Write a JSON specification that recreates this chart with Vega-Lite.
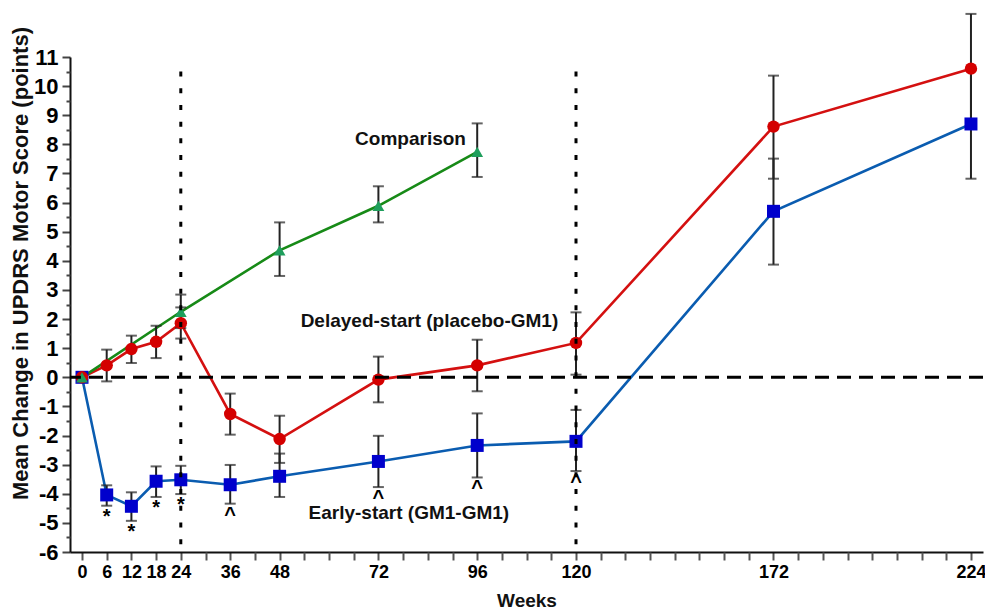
{
  "$schema": "https://vega.github.io/schema/vega-lite/v6.json",
  "autosize": {"type": "none"},
  "padding": {"left": 70, "top": 57, "right": 2, "bottom": 57},
  "width": 913,
  "height": 495,
  "background": "white",
  "config": {"view": {"stroke": null}, "font": "Liberation Sans", "axis": {"labelOverlap": false, "labelFlush": false, "labelBound": false, "grid": false}},
  "datasets": {
    "series": [
      {"g": "early", "week": 0, "mean": 0, "lo": null, "hi": null, "sym": ""},
      {"g": "early", "week": 6, "mean": -4.04, "lo": -4.41, "hi": -3.71, "sym": "*"},
      {"g": "early", "week": 12, "mean": -4.43, "lo": -4.93, "hi": -3.95, "sym": "*"},
      {"g": "early", "week": 18, "mean": -3.57, "lo": -4.11, "hi": -3.06, "sym": "*"},
      {"g": "early", "week": 24, "mean": -3.52, "lo": -4.01, "hi": -3.04, "sym": "*"},
      {"g": "early", "week": 36, "mean": -3.69, "lo": -4.34, "hi": -3.01, "sym": "^"},
      {"g": "early", "week": 48, "mean": -3.4, "lo": -4.11, "hi": -2.62, "sym": ""},
      {"g": "early", "week": 72, "mean": -2.89, "lo": -3.77, "hi": -2.01, "sym": "^"},
      {"g": "early", "week": 96, "mean": -2.34, "lo": -3.44, "hi": -1.24, "sym": "^"},
      {"g": "early", "week": 120, "mean": -2.2, "lo": -3.22, "hi": -1.12, "sym": "^"},
      {"g": "early", "week": 172, "mean": 5.7, "lo": 3.87, "hi": 7.51, "sym": ""},
      {"g": "early", "week": 224, "mean": 8.7, "lo": 6.82, "hi": 10.58, "sym": ""},
      {"g": "delayed", "week": 0, "mean": 0, "lo": null, "hi": null, "sym": ""},
      {"g": "delayed", "week": 6, "mean": 0.41, "lo": -0.14, "hi": 0.95, "sym": ""},
      {"g": "delayed", "week": 12, "mean": 0.97, "lo": 0.49, "hi": 1.43, "sym": ""},
      {"g": "delayed", "week": 18, "mean": 1.22, "lo": 0.66, "hi": 1.77, "sym": ""},
      {"g": "delayed", "week": 24, "mean": 1.86, "lo": 1.33, "hi": 2.4, "sym": ""},
      {"g": "delayed", "week": 36, "mean": -1.26, "lo": -1.97, "hi": -0.56, "sym": ""},
      {"g": "delayed", "week": 48, "mean": -2.12, "lo": -2.94, "hi": -1.32, "sym": ""},
      {"g": "delayed", "week": 72, "mean": -0.08, "lo": -0.86, "hi": 0.71, "sym": ""},
      {"g": "delayed", "week": 96, "mean": 0.41, "lo": -0.48, "hi": 1.29, "sym": ""},
      {"g": "delayed", "week": 120, "mean": 1.18, "lo": 0.09, "hi": 2.23, "sym": ""},
      {"g": "delayed", "week": 172, "mean": 8.61, "lo": 6.82, "hi": 10.36, "sym": ""},
      {"g": "delayed", "week": 224, "mean": 10.6, "lo": 8.71, "hi": 12.48, "sym": ""},
      {"g": "comparison", "week": 0, "mean": 0, "lo": null, "hi": null, "sym": ""},
      {"g": "comparison", "week": 24, "mean": 2.25, "lo": 1.69, "hi": 2.84, "sym": ""},
      {"g": "comparison", "week": 48, "mean": 4.36, "lo": 3.48, "hi": 5.32, "sym": ""},
      {"g": "comparison", "week": 72, "mean": 5.89, "lo": 5.32, "hi": 6.56, "sym": ""},
      {"g": "comparison", "week": 96, "mean": 7.74, "lo": 6.88, "hi": 8.72, "sym": ""}
    ],
    "labels": [
      {"week": 79.8, "val": 7.99, "label": "Comparison"},
      {"week": 84.4, "val": 1.74, "label": "Delayed-start (placebo-GM1)"},
      {"week": 79.4, "val": -4.87, "label": "Early-start (GM1-GM1)"}
    ],
    "phases": [
      {"week": 24},
      {"week": 120}
    ]
  },
  "resolve": {"axis": {"y": "independent", "x": "independent"}},
  "layer": [
    {
      "data": {"name": "series"},
      "mark": {"type": "line", "strokeWidth": 2.6, "clip": false},
      "encoding": {
        "x": {
          "field": "week", "type": "quantitative",
          "scale": {"domain": [-2.915, 120, 227.17], "range": [0, 506, 913], "nice": false, "zero": false},
          "axis": {
            "orient": "bottom",
            "title": "Weeks",
            "values": [0, 6, 12, 18, 24, 36, 48, 72, 96, 120, 172, 224],
            "domainColor": "#111", "domainWidth": 2,
            "tickColor": "#555", "tickWidth": 2, "tickSize": 8,
            "labelFont": "Liberation Sans", "labelFontWeight": "bold", "labelFontSize": 18, "labelColor": "#000",
            "labelPadding": 3, "labelOverlap": false, "labelFlush": false, "labelBound": false,
            "titleFont": "Liberation Sans", "titleFontWeight": "bold", "titleFontSize": 19, "titleColor": "#111",
            "titleY": 54, "titleBaseline": "alphabetic"
          }
        },
        "y": {
          "field": "mean", "type": "quantitative",
          "scale": {"domain": [-6, 11], "nice": false, "zero": false},
          "axis": {
            "orient": "left",
            "title": "Mean Change in UPDRS Motor Score (points)",
            "values": [-6, -5, -4, -3, -2, -1, 0, 1, 2, 3, 4, 5, 6, 7, 8, 9, 10, 11],
            "labelExpr": "datum.value < 0 ? '-' + abs(datum.value) : '' + datum.value",
            "domainColor": "#111", "domainWidth": 2,
            "tickColor": "#444", "tickWidth": 2, "tickSize": 8,
            "labelFont": "Liberation Sans", "labelFontWeight": "bold", "labelFontSize": 22, "labelColor": "#000",
            "labelPadding": 4, "labelOverlap": false, "labelFlush": false, "labelBound": false,
            "titleFont": "Liberation Sans", "titleFontWeight": "bold", "titleFontSize": 22, "titleColor": "#111",
            "titleX": -43, "titleY": 206, "titleBaseline": "alphabetic", "titleAngle": -90, "titleAlign": "center"
          }
        },
        "stroke": {
          "field": "g", "type": "nominal", "legend": null,
          "scale": {"domain": ["early", "delayed", "comparison"], "range": ["#0a5cb0", "#d41010", "#178a17"]}
        },
        "detail": {"field": "g"}
      }
    },
    {
      "data": {"name": "series"},
      "transform": [{"filter": "datum.lo != null"}],
      "mark": {"type": "rule", "color": "#222", "strokeWidth": 2, "clip": false},
      "encoding": {
        "x": {"field": "week", "type": "quantitative", "scale": {"domain": [-2.915, 120, 227.17], "range": [0, 506, 913], "nice": false, "zero": false}, "axis": null},
        "y": {"field": "lo", "type": "quantitative", "scale": {"domain": [-6, 11], "nice": false, "zero": false}, "axis": null},
        "y2": {"field": "hi"}
      }
    },
    {
      "data": {"name": "series"},
      "transform": [{"filter": "datum.lo != null"}],
      "mark": {"type": "tick", "orient": "horizontal", "color": "#222", "thickness": 2, "size": 11, "clip": false},
      "encoding": {
        "x": {"field": "week", "type": "quantitative", "scale": {"domain": [-2.915, 120, 227.17], "range": [0, 506, 913], "nice": false, "zero": false}, "axis": null},
        "y": {"field": "lo", "type": "quantitative", "scale": {"domain": [-6, 11], "nice": false, "zero": false}, "axis": null}
      }
    },
    {
      "data": {"name": "series"},
      "transform": [{"filter": "datum.hi != null"}],
      "mark": {"type": "tick", "orient": "horizontal", "color": "#222", "thickness": 2, "size": 11, "clip": false},
      "encoding": {
        "x": {"field": "week", "type": "quantitative", "scale": {"domain": [-2.915, 120, 227.17], "range": [0, 506, 913], "nice": false, "zero": false}, "axis": null},
        "y": {"field": "hi", "type": "quantitative", "scale": {"domain": [-6, 11], "nice": false, "zero": false}, "axis": null}
      }
    },
    {
      "data": {"name": "series"},
      "mark": {"type": "point", "filled": true, "opacity": 1, "strokeWidth": 0, "clip": false},
      "encoding": {
        "x": {"field": "week", "type": "quantitative", "scale": {"domain": [-2.915, 120, 227.17], "range": [0, 506, 913], "nice": false, "zero": false}, "axis": null},
        "y": {"field": "mean", "type": "quantitative", "scale": {"domain": [-6, 11], "nice": false, "zero": false}, "axis": null},
        "fill": {
          "field": "g", "type": "nominal", "legend": null,
          "scale": {"domain": ["early", "delayed", "comparison"], "range": ["#0000cc", "#d40000", "#1f9e5c"]}
        },
        "shape": {
          "field": "g", "type": "nominal", "legend": null,
          "scale": {"domain": ["early", "delayed", "comparison"], "range": ["square", "circle", "triangle-up"]}
        },
        "size": {
          "field": "g", "type": "nominal", "legend": null,
          "scale": {"domain": ["early", "delayed", "comparison"], "range": [169, 140, 150]}
        }
      }
    },
    {
      "data": {"name": "phases"},
      "mark": {"type": "rule", "color": "#000", "strokeWidth": 3, "strokeDash": [5, 11.7], "clip": false},
      "encoding": {
        "x": {
          "field": "week", "type": "quantitative",
          "scale": {"domain": [-2.915, 120, 227.17], "range": [0, 506, 913], "nice": false, "zero": false},
          "axis": {
            "orient": "bottom", "title": null, "labels": false, "domain": false,
            "values": [30, 42, 54, 60, 66, 78, 84, 90, 102, 108, 114, 126.5, 133, 139.5, 146, 152.5, 159, 165.5, 178.5, 185, 191.5, 198, 204.5, 211, 217.5],
            "tickColor": "#555", "tickWidth": 2, "tickSize": 8
          }
        },
        "y": {"datum": 10.5, "type": "quantitative", "scale": {"domain": [-6, 11], "nice": false, "zero": false}, "axis": null},
        "y2": {"datum": -6}
      }
    },
    {
      "data": {"values": [{"z": 0}]},
      "mark": {"type": "rule", "color": "#000", "strokeWidth": 3, "strokeDash": [14, 8]},
      "encoding": {
        "y": {
          "field": "z", "type": "quantitative",
          "scale": {"domain": [-6, 11], "nice": false, "zero": false},
          "axis": {
            "orient": "left", "title": null, "labels": false, "domain": false,
            "values": [-5.5, -4.5, -3.5, -2.5, -1.5, -0.5, 0.5, 1.5, 2.5, 3.5, 4.5, 5.5, 6.5, 7.5, 8.5, 9.5, 10.5],
            "tickColor": "#444", "tickWidth": 2, "tickSize": 4
          }
        }
      }
    },
    {
      "data": {"name": "series"},
      "transform": [{"filter": "datum.sym != ''"}],
      "mark": {"type": "text", "font": "Liberation Sans", "fontWeight": "bold", "fontSize": 20, "baseline": "top", "align": "center", "dy": 1, "color": "#000", "clip": false},
      "encoding": {
        "x": {"field": "week", "type": "quantitative", "scale": {"domain": [-2.915, 120, 227.17], "range": [0, 506, 913], "nice": false, "zero": false}, "axis": null},
        "y": {"field": "lo", "type": "quantitative", "scale": {"domain": [-6, 11], "nice": false, "zero": false}, "axis": null},
        "text": {"field": "sym"}
      }
    },
    {
      "data": {"name": "labels"},
      "mark": {"type": "text", "font": "Liberation Sans", "fontWeight": "bold", "fontSize": 19, "baseline": "alphabetic", "align": "center", "color": "#111", "clip": false},
      "encoding": {
        "x": {"field": "week", "type": "quantitative", "scale": {"domain": [-2.915, 120, 227.17], "range": [0, 506, 913], "nice": false, "zero": false}, "axis": null},
        "y": {"field": "val", "type": "quantitative", "scale": {"domain": [-6, 11], "nice": false, "zero": false}, "axis": null},
        "text": {"field": "label"}
      }
    }
  ]
}
